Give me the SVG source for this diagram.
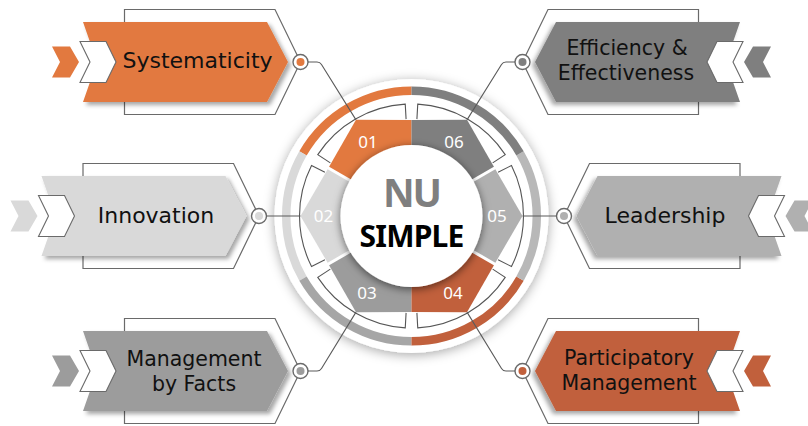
<svg xmlns="http://www.w3.org/2000/svg" xmlns:xlink="http://www.w3.org/1999/xlink" width="808" height="426" viewBox="0 0 808 426">
<defs>
<style>
.outline{fill:none;stroke:#6a6a6a;stroke-width:1.2}
.chev{fill:#fff;stroke:#6a6a6a;stroke-width:1.1}
.ring{fill:#fff;stroke:#6a6a6a;stroke-width:1.4}
.lbl{font-family:"DejaVu Sans","Noto Sans",sans-serif;fill:#111;text-anchor:middle}
.num{font-family:"Noto Sans","Open Sans",sans-serif;fill:#fff;font-size:17px;text-anchor:middle}
.conn{fill:none;stroke:#5a5a5a;stroke-width:1.1}
.band{fill:none;stroke:#555;stroke-width:1.1}
.arc{fill:none;stroke-width:8.5}
.gap{stroke:#fff;stroke-width:3}
.o{fill:#E2793F}.b{fill:#C1603C}.dg{fill:#7F7F7F}.mg{fill:#B0B0B0}.g{fill:#9C9C9C}.lg{fill:#D9D9D9}
</style>
<filter id="sh" x="-20%" y="-20%" width="150%" height="150%">
<feDropShadow dx="3" dy="3" stdDeviation="2.2" flood-color="#000" flood-opacity="0.35"/>
</filter>
<filter id="discsh" x="-30%" y="-30%" width="160%" height="160%">
<feDropShadow dx="0" dy="2" stdDeviation="6" flood-color="#000" flood-opacity="0.35"/>
</filter>
<filter id="innersh" x="-30%" y="-30%" width="160%" height="160%">
<feDropShadow dx="0" dy="2" stdDeviation="4.5" flood-color="#000" flood-opacity="0.55"/>
</filter>
<polygon id="boxshape" points="0,-40 184,-40 205,0 184,40 0,40 14,0"/>
<polygon id="smallchev" points="-31,-15.5 -13,-15.5 -4,0 -13,15.5 -31,15.5 -23,0"/>
<path id="seg" d="M0,0 L83.14,-48 L111,0 L83.14,48 Z"/>
<path id="bandp" d="M86.58,-43.74 L99.97,-50.5 A112,112 0 0 1 99.97,50.5 L86.58,43.74"/>
<path id="arcp" d="M108.51,-62.65 A125.3,125.3 0 0 1 108.51,62.65"/>
</defs>
<rect width="808" height="426" fill="#fff"/>

<!-- Left boxes -->
<g id="systematicity">
<g transform="translate(83,62)">
<polygon class="outline" points="41.5,-52.5 192,-52.5 217.5,0 192,52.5 41.5,52.5"/>
<use xlink:href="#smallchev" class="o"/>
<use xlink:href="#boxshape" class="o" filter="url(#sh)"/>
<polygon class="chev" points="-3,-20.5 23,-20.5 33,0 23,20.5 -3,20.5 7,0"/>
<circle class="ring" cx="217.5" cy="0" r="7.5"/>
<circle class="o" cx="217.5" cy="0" r="4"/>
</g>
<text class="lbl" x="197.5" y="67.5" font-size="22">Systematicity</text>
</g>

<g id="innovation">
<g transform="translate(41.5,216)">
<polygon class="outline" points="41.5,-52.5 192,-52.5 217.5,0 192,52.5 41.5,52.5"/>
<use xlink:href="#smallchev" class="lg"/>
<use xlink:href="#boxshape" class="lg" filter="url(#sh)"/>
<polygon class="chev" points="-3,-20.5 23,-20.5 33,0 23,20.5 -3,20.5 7,0"/>
<circle class="ring" cx="217.5" cy="0" r="7.5"/>
<circle class="lg" cx="217.5" cy="0" r="4"/>
</g>
<text class="lbl" x="156" y="222.5" font-size="22">Innovation</text>
</g>

<g id="management-by-facts">
<g transform="translate(83,371)">
<polygon class="outline" points="41.5,-52.5 192,-52.5 217.5,0 192,52.5 41.5,52.5"/>
<use xlink:href="#smallchev" class="g"/>
<use xlink:href="#boxshape" class="g" filter="url(#sh)"/>
<polygon class="chev" points="-3,-20.5 23,-20.5 33,0 23,20.5 -3,20.5 7,0"/>
<circle class="ring" cx="217.5" cy="0" r="7.5"/>
<circle class="g" cx="217.5" cy="0" r="4"/>
</g>
<text class="lbl" x="194" y="366" font-size="20.5">Management</text>
<text class="lbl" x="194" y="391" font-size="20.5">by Facts</text>
</g>

<!-- Right boxes (mirrored shapes) -->
<g id="efficiency-effectiveness">
<g transform="translate(823,0) scale(-1,1) translate(83,62)">
<polygon class="outline" points="41.5,-52.5 192,-52.5 217.5,0 192,52.5 41.5,52.5"/>
<use xlink:href="#smallchev" class="dg"/>
<use xlink:href="#boxshape" class="dg" filter="url(#sh)"/>
<polygon class="chev" points="-3,-20.5 23,-20.5 33,0 23,20.5 -3,20.5 7,0"/>
<circle class="ring" cx="217.5" cy="0" r="7.5"/>
<circle class="dg" cx="217.5" cy="0" r="4"/>
</g>
<text class="lbl" x="627" y="55" font-size="20.5">Efficiency &amp;</text>
<text class="lbl" x="626" y="80" font-size="20.5">Effectiveness</text>
</g>

<g id="leadership">
<g transform="translate(823,0) scale(-1,1) translate(41.5,216)">
<polygon class="outline" points="41.5,-52.5 192,-52.5 217.5,0 192,52.5 41.5,52.5"/>
<use xlink:href="#smallchev" class="mg"/>
<use xlink:href="#boxshape" class="mg" filter="url(#sh)"/>
<polygon class="chev" points="-3,-20.5 23,-20.5 33,0 23,20.5 -3,20.5 7,0"/>
<circle class="ring" cx="217.5" cy="0" r="7.5"/>
<circle class="mg" cx="217.5" cy="0" r="4"/>
</g>
<text class="lbl" x="665" y="222.5" font-size="22">Leadership</text>
</g>

<g id="participatory-management">
<g transform="translate(823,0) scale(-1,1) translate(83,371)">
<polygon class="outline" points="41.5,-52.5 192,-52.5 217.5,0 192,52.5 41.5,52.5"/>
<use xlink:href="#smallchev" class="b"/>
<use xlink:href="#boxshape" class="b" filter="url(#sh)"/>
<polygon class="chev" points="-3,-20.5 23,-20.5 33,0 23,20.5 -3,20.5 7,0"/>
<circle class="ring" cx="217.5" cy="0" r="7.5"/>
<circle class="b" cx="217.5" cy="0" r="4"/>
</g>
<text class="lbl" x="629" y="365" font-size="20.5">Participatory</text>
<text class="lbl" x="629" y="390" font-size="20.5">Management</text>
</g>

<!-- Central hub -->
<g id="hub" transform="translate(411.5,216)">
<circle r="137" fill="#fff" filter="url(#discsh)"/>
<use xlink:href="#arcp" class="arc" stroke="#E2793F" transform="rotate(-120)"/>
<use xlink:href="#arcp" class="arc" stroke="#D9D9D9" transform="rotate(-180)"/>
<use xlink:href="#arcp" class="arc" stroke="#A6A6A6" transform="rotate(-240)"/>
<use xlink:href="#arcp" class="arc" stroke="#C1603C" transform="rotate(-300)"/>
<use xlink:href="#arcp" class="arc" stroke="#B8B8B8" transform="rotate(0)"/>
<use xlink:href="#arcp" class="arc" stroke="#7F7F7F" transform="rotate(-60)"/>
<use xlink:href="#bandp" class="band" transform="rotate(-120)"/>
<use xlink:href="#bandp" class="band" transform="rotate(-180)"/>
<use xlink:href="#bandp" class="band" transform="rotate(-240)"/>
<use xlink:href="#bandp" class="band" transform="rotate(-300)"/>
<use xlink:href="#bandp" class="band" transform="rotate(0)"/>
<use xlink:href="#bandp" class="band" transform="rotate(-60)"/>
<use xlink:href="#seg" class="o" transform="rotate(-120)"/>
<use xlink:href="#seg" class="lg" transform="rotate(-180)"/>
<use xlink:href="#seg" class="g" transform="rotate(-240)"/>
<use xlink:href="#seg" class="b" transform="rotate(-300)"/>
<use xlink:href="#seg" class="mg" transform="rotate(0)"/>
<use xlink:href="#seg" class="dg" transform="rotate(-60)"/>
<line class="gap" x1="-60.6" y1="-35" x2="-87" y2="-50.2"/>
<line class="gap" x1="60.6" y1="-35" x2="87" y2="-50.2"/>
<line class="gap" x1="-60.6" y1="35" x2="-87" y2="50.2"/>
<line class="gap" x1="60.6" y1="35" x2="87" y2="50.2"/>
<circle r="71" fill="#fff" filter="url(#innersh)"/>
<text class="num" x="-43.5" y="-68">01</text>
<text class="num" x="42.5" y="-68">06</text>
<text class="num" x="-88" y="6">02</text>
<text class="num" x="85.5" y="6">05</text>
<text class="num" x="-44.5" y="83">03</text>
<text class="num" x="41.5" y="83">04</text>
<text x="0" y="-9.5" font-family="'Noto Sans','Open Sans',sans-serif" font-weight="bold" font-size="39" letter-spacing="-2" fill="#7F7F7F" text-anchor="middle">NU</text>
<text x="0" y="30.5" font-family="'Noto Sans','Open Sans',sans-serif" font-weight="bold" font-size="30" letter-spacing="-0.8" fill="#000" text-anchor="middle">SIMPLE</text>
</g>

<!-- Connectors -->
<g id="connectors">
<path class="conn" d="M308,62 H317 Q320,62 321.5,64.5 L356,119.9"/>
<path class="conn" d="M515,62 H506 Q503,62 501.5,64.5 L467,119.9"/>
<path class="conn" d="M266.5,216 H300.5"/>
<path class="conn" d="M556.5,216 H522.5"/>
<path class="conn" d="M308,371 H317 Q320,371 321.5,368.5 L356,312.1"/>
<path class="conn" d="M515,371 H506 Q503,371 501.5,368.5 L467,312.1"/>
</g>
</svg>
